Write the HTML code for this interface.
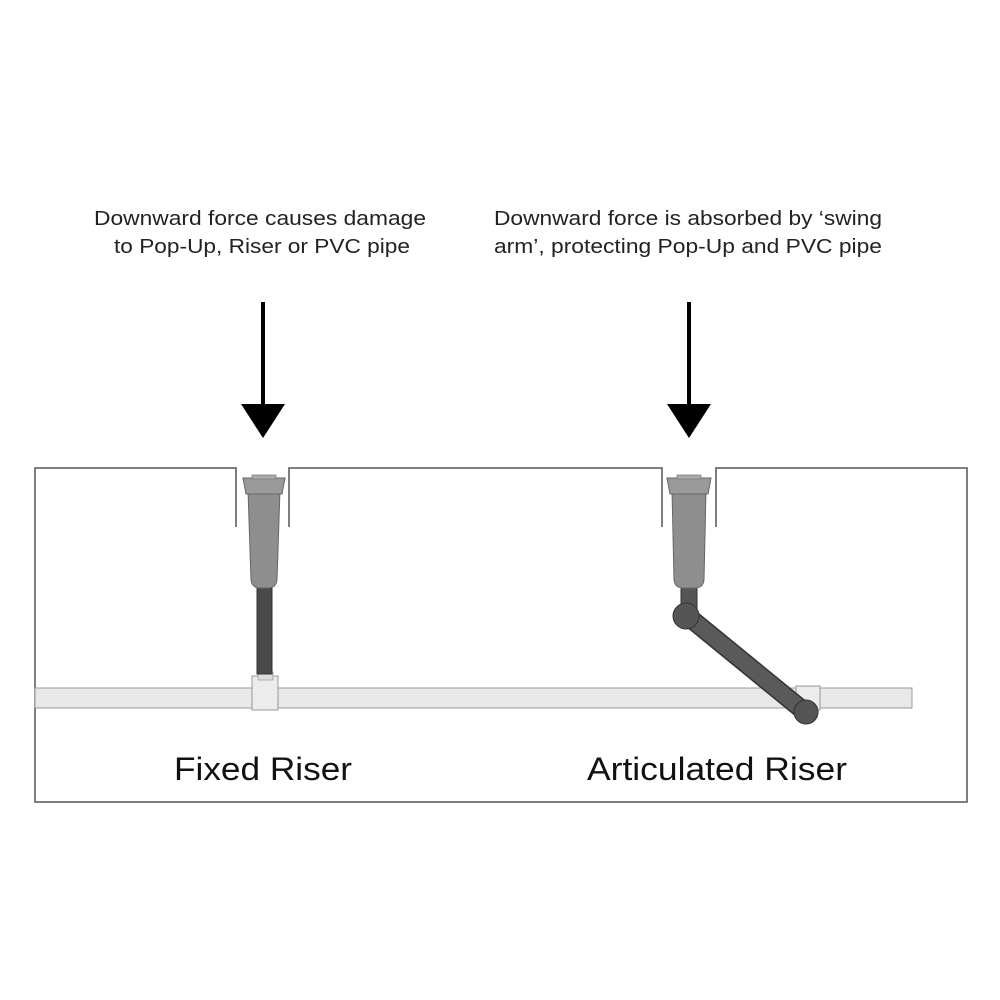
<!DOCTYPE html>
<html><head><style>html,body{margin:0;padding:0;background:#fff}svg{display:block}</style></head>
<body>
<svg width="1000" height="1000" viewBox="0 0 1000 1000" xmlns="http://www.w3.org/2000/svg" font-family="Liberation Sans, Arial, sans-serif">
<rect width="1000" height="1000" fill="#fff"/>
<g fill="#222" font-size="20">
<text x="94" y="225" textLength="332" lengthAdjust="spacingAndGlyphs">Downward force causes damage</text>
<text x="114" y="253" textLength="296" lengthAdjust="spacingAndGlyphs">to Pop-Up, Riser or PVC pipe</text>
<text x="494" y="225" textLength="388" lengthAdjust="spacingAndGlyphs">Downward force is absorbed by ‘swing</text>
<text x="494" y="253" textLength="388" lengthAdjust="spacingAndGlyphs">arm’, protecting Pop-Up and PVC pipe</text>
</g>
<!-- arrows -->
<g fill="#000">
<rect x="261" y="302" width="4" height="106"/>
<polygon points="241,404 285,404 263,438"/>
<rect x="687" y="302" width="4" height="106"/>
<polygon points="667,404 711,404 689,438"/>
</g>
<!-- ground box -->
<g stroke="#555" stroke-width="1.5" fill="none">
<polyline points="236,527 236,468 35,468 35,802 967,802 967,468 716,468 716,527"/>
<polyline points="289,527 289,468 662,468 662,527"/>
</g>
<!-- pipe -->
<rect x="35" y="688" width="877" height="20" fill="#e8e8e8" stroke="#999" stroke-width="1"/>
<!-- left fixed riser -->
<rect x="252" y="676" width="26" height="34" fill="#ececec" stroke="#999"/>
<rect x="258" y="672" width="15" height="8" fill="#ddd" stroke="#999" stroke-width=".7"/>
<rect x="257" y="588" width="15" height="86" fill="#4a4a4a" stroke="#333"/>
<path d="M248,490 L280,490 L277,580 Q276,588 268,588 L260,588 Q252,588 251,580 Z" fill="#8e8e8e" stroke="#666"/>
<path d="M243,478 L285,478 L282,494 L246,494 Z" fill="#9a9a9a" stroke="#666"/>
<rect x="252" y="475" width="24" height="4" fill="#aaa" stroke="#777" stroke-width=".7"/>
<!-- right articulated -->
<rect x="796" y="686" width="24" height="24" fill="#ececec" stroke="#999"/>
<path d="M690,618 L805,712" stroke="#333" stroke-width="19" stroke-linecap="butt"/>
<path d="M690,618 L805,712" stroke="#5a5a5a" stroke-width="16"/>
<rect x="681" y="585" width="16" height="30" fill="#555" stroke="#333"/>
<circle cx="686" cy="616" r="13" fill="#555" stroke="#333"/>
<circle cx="806" cy="712" r="12" fill="#555" stroke="#333"/>
<path d="M672,490 L706,490 L704,580 Q703,588 695,588 L683,588 Q675,588 674,580 Z" fill="#8e8e8e" stroke="#666"/>
<path d="M667,478 L711,478 L708,494 L670,494 Z" fill="#9a9a9a" stroke="#666"/>
<rect x="677" y="475" width="24" height="4" fill="#aaa" stroke="#777" stroke-width=".7"/>
<!-- labels -->
<g fill="#111" font-size="32">
<text x="263" y="780" text-anchor="middle" textLength="178" lengthAdjust="spacingAndGlyphs">Fixed Riser</text>
<text x="717" y="780" text-anchor="middle" textLength="260" lengthAdjust="spacingAndGlyphs">Articulated Riser</text>
</g>
</svg>
</body></html>
